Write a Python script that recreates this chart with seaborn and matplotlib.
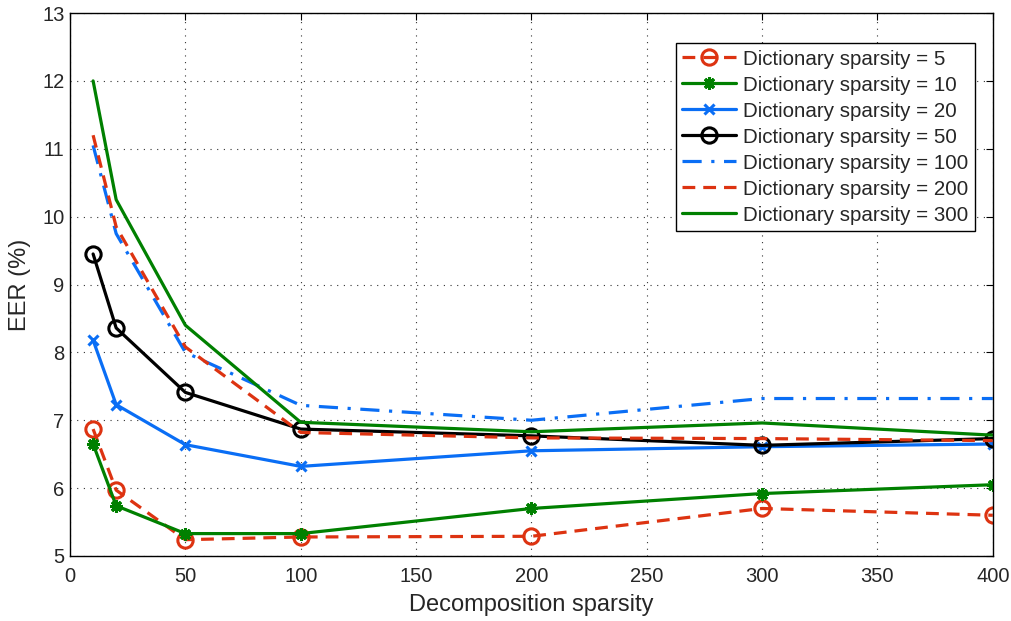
import numpy as np
import pandas as pd
import matplotlib
matplotlib.use("Agg")
import matplotlib.pyplot as plt
import seaborn as sns

x = [10, 20, 50, 100, 200, 300, 400]
ds5 = [6.87, 5.97, 5.24, 5.28, 5.29, 5.70, 5.60]
ds10 = [6.65, 5.74, 5.33, 5.33, 5.70, 5.92, 6.05]
ds20 = [8.18, 7.23, 6.64, 6.32, 6.55, 6.61, 6.65]
ds50 = [9.45, 8.36, 7.41, 6.87, 6.77, 6.63, 6.73]
ds100 = [11.05, 9.75, 8.00, 7.22, 7.00, 7.32, 7.32]
ds200 = [11.20, 9.85, 8.08, 6.82, 6.74, 6.73, 6.70]
ds300 = [12.00, 10.25, 8.40, 6.97, 6.83, 6.96, 6.78]
labels = ["Dictionary sparsity = 5", "Dictionary sparsity = 10", "Dictionary sparsity = 20",
          "Dictionary sparsity = 50", "Dictionary sparsity = 100", "Dictionary sparsity = 200",
          "Dictionary sparsity = 300"]
series = [ds5, ds10, ds20, ds50, ds100, ds200, ds300]

red = "#dd3311"
green = "#008000"
blue = "#0a6ef5"
styles = [
    dict(color=red, ls=(0, (4, 2.5)), marker="o", mfc="none", ms=11),
    dict(color=green, ls="-", marker=(8, 2, 0), mfc=green, ms=9),
    dict(color=blue, ls="-", marker="x", mfc=blue, ms=7.5),
    dict(color="black", ls="-", marker="o", mfc="none", ms=11),
    dict(color=blue, ls=(0, (6, 3, 1, 3)), marker=None, mfc="none", ms=0),
    dict(color=red, ls=(0, (4, 2.5)), marker=None, mfc="none", ms=0),
    dict(color=green, ls="-", marker=None, mfc="none", ms=0),
]

sns.set_style("white")
plt.rcParams["font.family"] = ["Liberation Sans", "DejaVu Sans"]

fig = plt.figure(figsize=(10.12, 6.21), dpi=100)
ax = fig.add_axes([0.0692, 0.1047, 0.9118, 0.8743])

for y, lab, st in zip(series, labels, styles):
    df = pd.DataFrame({"x": x, "y": y})
    sns.lineplot(data=df, x="x", y="y", ax=ax, color=st["color"], linestyle=st["ls"],
                 linewidth=2.3, marker=st["marker"], markersize=st["ms"],
                 markerfacecolor=st["mfc"], markeredgecolor=st["color"],
                 markeredgewidth=2.2, label=lab)

ax.set_xlim(0, 400)
ax.set_ylim(5, 13)
ax.set_xticks(np.arange(0, 401, 50))
ax.set_yticks(np.arange(5, 14, 1))
ax.grid(True, color="#333333", linestyle=(0, (1, 5)), linewidth=0.8)
ax.tick_params(direction="in", top=True, right=True, labelsize=14.5, length=5, color="black")
ax.tick_params(axis="x", pad=8)
ax.tick_params(axis="y", pad=4)
for s in ax.spines.values():
    s.set_visible(True)
    s.set_color("black")
    s.set_linewidth(1.0)
ax.set_xlabel("Decomposition sparsity", fontsize=17, labelpad=6)
ax.set_ylabel("EER (%)", fontsize=17, labelpad=8)

leg = ax.legend(loc="upper right", bbox_to_anchor=(0.9805, 0.9448), fontsize=14.8,
                frameon=True, fancybox=False, edgecolor="black", framealpha=1,
                handlelength=2.6, labelspacing=0.34, borderpad=0.32, handletextpad=0.35,
                borderaxespad=0)
leg.get_frame().set_linewidth(1.0)

fig.savefig("out.png", dpi=100)
